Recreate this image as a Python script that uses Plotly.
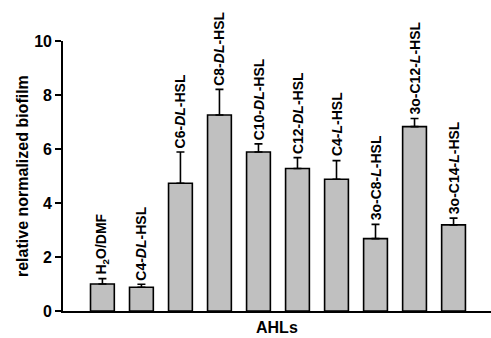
import plotly.graph_objects as go

categories = ["H2O/DMF", "C4-DL-HSL", "C6-DL-HSL", "C8-DL-HSL", "C10-DL-HSL",
              "C12-DL-HSL", "C4-L-HSL", "3o-C8-L-HSL", "3o-C12-L-HSL", "3o-C14-L-HSL"]
label_html = ["H<sub>2</sub>O/DMF", "C4-<i>DL</i>-HSL", "C6-<i>DL</i>-HSL", "C8-<i>DL</i>-HSL",
              "C10-<i>DL</i>-HSL", "C12-<i>DL</i>-HSL", "C4-<i>L</i>-HSL", "3o-C8-<i>L</i>-HSL",
              "3o-C12-<i>L</i>-HSL", "3o-C14-<i>L</i>-HSL"]
values = [1.0, 0.88, 4.73, 7.26, 5.89, 5.28, 4.88, 2.68, 6.83, 3.19]
errors = [0.2, 0.11, 1.16, 0.95, 0.3, 0.4, 0.69, 0.53, 0.3, 0.25]
y_ticks = [0, 2, 4, 6, 8, 10]

FONT = "Liberation Sans, Arial, sans-serif"

fig = go.Figure()
fig.add_trace(go.Bar(
    x=categories, y=values, width=0.61,
    marker=dict(color="#c0c0c0", line=dict(color="black", width=1.6)),
    error_y=dict(type="data", array=errors, arrayminus=[0] * len(errors), symmetric=False,
                 color="black", thickness=1.6, width=4),
    showlegend=False,
))

for c, lab, v, e in zip(categories, label_html, values, errors):
    fig.add_annotation(x=c, y=v + e, text="<b>" + lab + "</b>", textangle=-90,
                       xanchor="center", yanchor="bottom", yshift=2, showarrow=False,
                       font=dict(family=FONT, size=14, color="black"))

fig.add_annotation(xref="paper", yref="paper", x=0.5, y=0, yshift=-16, text="<b>AHLs</b>",
                   showarrow=False, xanchor="center", yanchor="middle",
                   font=dict(family=FONT, size=16, color="black"))
fig.add_annotation(xref="paper", yref="paper", x=0, y=0.5, xshift=-41, yshift=0,
                   text="<b>relative normalized biofilm</b>", textangle=-90,
                   showarrow=False, xanchor="center", yanchor="middle",
                   font=dict(family=FONT, size=16, color="black"))

fig.update_layout(
    width=491, height=338,
    margin=dict(l=63, r=0, t=41, b=27),
    plot_bgcolor="white", paper_bgcolor="white",
    font=dict(family=FONT, color="black"),
    xaxis=dict(range=[-1.01, 9.96], showticklabels=False, ticks="", showgrid=False,
               showline=True, linecolor="black", linewidth=1.6, zeroline=False),
    yaxis=dict(range=[0, 10], tickvals=y_ticks, ticktext=["<b>%d</b>" % t for t in y_ticks],
               ticks="outside", ticklen=6, tickwidth=1.6, tickcolor="black",
               tickfont=dict(family=FONT, size=16, color="black"),
               showgrid=False, showline=True, linecolor="black", linewidth=1.6,
               zeroline=False),
)

fig.write_html("out.html", config={"displayModeBar": False},
               post_script="document.body.style.margin='0';document.body.style.overflow='hidden';")
